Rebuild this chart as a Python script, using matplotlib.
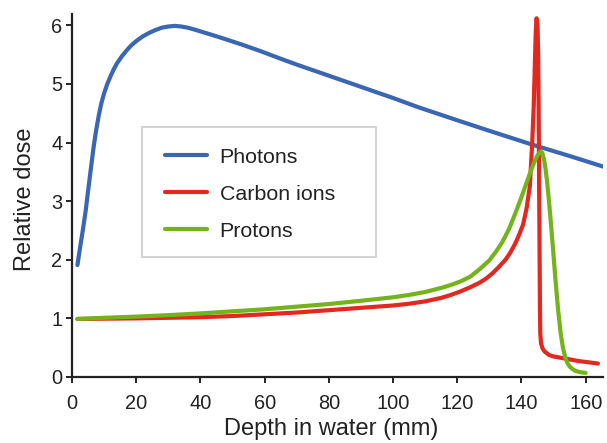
import matplotlib
matplotlib.use("Agg")
import matplotlib.pyplot as plt
from matplotlib.patches import Rectangle

plt.rcParams.update({
    "font.family": ["Liberation Sans", "DejaVu Sans"],
    "text.color": "#222222",
    "axes.labelcolor": "#222222",
    "xtick.color": "#222222",
    "ytick.color": "#222222",
})

# depth (mm) / relative dose
photon_x = [1.7, 2.5, 3.5, 4.3, 5.0, 5.8, 6.8, 7.5, 8.3, 9.1, 10, 11, 12, 13,
            14, 15.5, 17, 18.5, 20, 22, 24, 26, 28, 30, 32, 34, 36, 38, 41,
            44, 48, 53, 58.7, 65, 70, 80, 90, 100, 108, 120, 130, 143.6, 155,
            166]
photon_y = [1.91, 2.20, 2.55, 2.85, 3.17, 3.52, 3.95, 4.20, 4.45, 4.66, 4.84,
            5.00, 5.13, 5.25, 5.35, 5.47, 5.57, 5.66, 5.73, 5.81, 5.87, 5.92,
            5.96, 5.98, 5.99, 5.98, 5.96, 5.93, 5.88, 5.83, 5.76, 5.67, 5.56,
            5.43, 5.33, 5.14, 4.95, 4.76, 4.60, 4.38, 4.20, 3.96, 3.77, 3.58]

carbon_x = [1.7, 10, 20, 30, 40, 50, 60, 70, 80, 90, 100, 105, 110, 115, 118,
            121, 124, 127, 129, 131, 133, 135, 136.5, 138, 139.3, 140.5, 141.6,
            142.6, 143.3, 143.8, 144.2, 144.45, 144.7, 145.0, 145.2, 145.35,
            145.5, 145.65, 145.75, 145.85, 146.1, 146.6, 147.3, 148.6, 150,
            152, 155, 158, 161, 163.8]
carbon_y = [0.99, 0.995, 1.0, 1.01, 1.02, 1.04, 1.07, 1.10, 1.14, 1.18, 1.22,
            1.25, 1.29, 1.35, 1.40, 1.46, 1.53, 1.61, 1.68, 1.77, 1.88, 2.00,
            2.12, 2.27, 2.43, 2.60, 2.88, 3.25, 3.95, 4.60, 5.40, 5.90, 6.12,
            6.00, 5.50, 4.60, 3.20, 2.00, 1.20, 0.75, 0.57, 0.48, 0.43, 0.375,
            0.35, 0.33, 0.30, 0.27, 0.25, 0.23]

proton_x = [1.7, 10, 20, 30, 40, 50, 60, 70, 80, 90, 100, 105, 110, 115, 118,
            121, 124, 127, 130, 132.2, 134, 136, 138, 140, 141.5, 142.8, 144,
            145, 145.5, 146.0, 146.5, 147.0, 147.5, 148.0, 148.6, 149.2, 149.8,
            150.6, 151.4, 152.2, 152.9, 153.6, 154.3, 155, 156, 157, 158.5, 160]
proton_y = [0.99, 1.01, 1.03, 1.055, 1.085, 1.12, 1.155, 1.20, 1.245, 1.30,
            1.36, 1.40, 1.45, 1.52, 1.57, 1.63, 1.71, 1.84, 1.99, 2.15, 2.30,
            2.51, 2.78, 3.07, 3.30, 3.50, 3.67, 3.78, 3.82, 3.85, 3.82, 3.72,
            3.55, 3.32, 2.98, 2.60, 2.20, 1.65, 1.15, 0.75, 0.50, 0.34, 0.24,
            0.18, 0.13, 0.10, 0.08, 0.07]

COLORS = {"Photons": "#3b66b1", "Carbon ions": "#e2281f", "Protons": "#74b31b"}

fig = plt.figure(figsize=(6.07, 4.43), dpi=100)
ax = fig.add_axes([0.1186, 0.149, 0.8754, 0.819])

lw = 3.0
for name, xs, ys in [("Photons", photon_x, photon_y),
                     ("Carbon ions", carbon_x, carbon_y),
                     ("Protons", proton_x, proton_y)]:
    ax.plot(xs, ys, color=COLORS[name], lw=lw, solid_capstyle="round",
            solid_joinstyle="round", label=name)

ax.set_xlim(0, 165.5)
ax.set_ylim(0, 6.19)
ax.set_xticks(range(0, 161, 20))
ax.set_yticks(range(0, 7))

for side in ("top", "right"):
    ax.spines[side].set_visible(False)
for side in ("left", "bottom"):
    ax.spines[side].set_linewidth(1.6)
    ax.spines[side].set_color("#222222")

ax.tick_params(axis="both", direction="out", length=4, width=1.4,
               labelsize=14.4)
ax.tick_params(axis="x", pad=8)
ax.tick_params(axis="y", pad=3)

ax.set_xlabel("Depth in water (mm)", fontsize=17)
ax.xaxis.set_label_coords(0.487, -0.113)
ax.set_ylabel("Relative dose", fontsize=17)
ax.yaxis.set_label_coords(-0.067, 0.489)

# legend box drawn separately so the frame can be wider than its content
ax.add_patch(Rectangle((0.132, 0.331), 0.44, 0.358, transform=ax.transAxes,
                       facecolor="white", edgecolor="#cccccc", lw=1.2,
                       zorder=4))
leg = ax.legend(loc="upper left", bbox_to_anchor=(0.175, 0.632),
                frameon=False, fontsize=15.4, borderpad=0, borderaxespad=0,
                handlelength=1.96, handletextpad=0.6, labelspacing=0.84)
leg.set_zorder(5)

fig.savefig("out.png", dpi=100)
